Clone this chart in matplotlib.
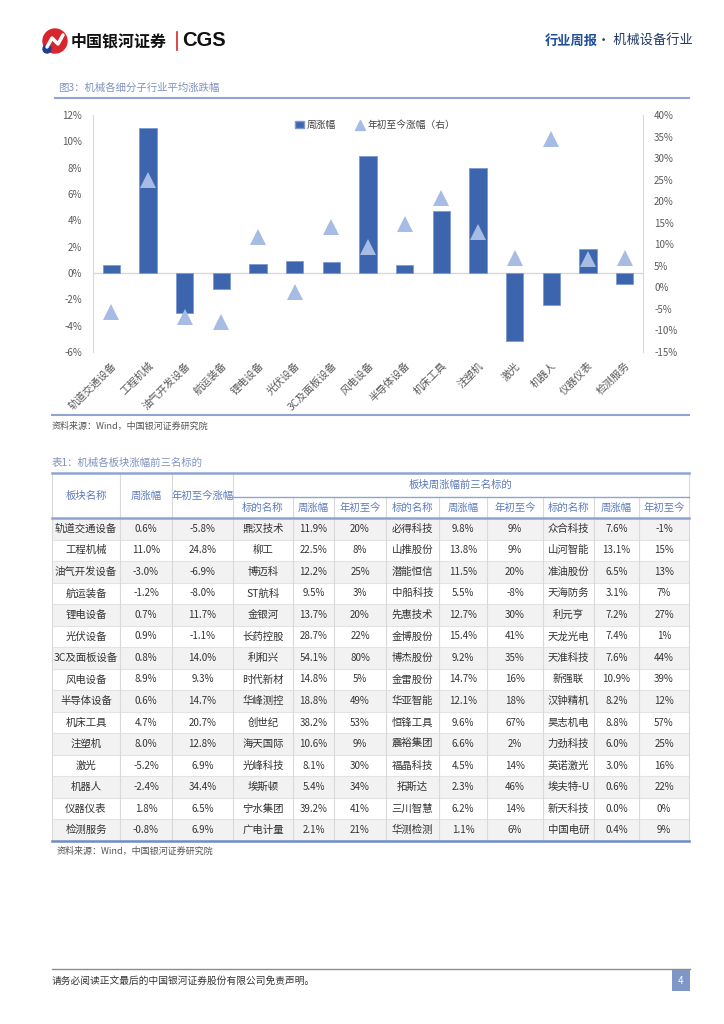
import numpy as np
import matplotlib
matplotlib.use('Agg')
import matplotlib.pyplot as plt
from matplotlib.patches import Rectangle, Circle, Patch
from matplotlib.lines import Line2D

plt.rcParams['font.family'] = ['Noto Sans CJK SC', 'DejaVu Sans']

# ---- data ----
sectors = ['轨道交通设备', '工程机械', '油气开发设备', '航运装备', '锂电设备', '光伏设备',
           '3C及面板设备', '风电设备', '半导体设备', '机床工具', '注塑机', '激光',
           '机器人', '仪器仪表', '检测服务']
week_chg = [0.6, 11.0, -3.0, -1.2, 0.7, 0.9, 0.8, 8.9, 0.6, 4.7, 8.0, -5.2, -2.4, 1.8, -0.8]
ytd_chg = [-5.8, 24.8, -6.9, -8.0, 11.7, -1.1, 14.0, 9.3, 14.7, 20.7, 12.8, 6.9, 34.4, 6.5, 6.9]

top1_name = ['鼎汉技术', '柳工', '博迈科', 'ST航科', '金银河', '长药控股', '利和兴', '时代新材',
             '华峰测控', '创世纪', '海天国际', '光峰科技', '埃斯顿', '宁水集团', '广电计量']
top1_week = [11.9, 22.5, 12.2, 9.5, 13.7, 28.7, 54.1, 14.8, 18.8, 38.2, 10.6, 8.1, 5.4, 39.2, 2.1]
top1_ytd = [20, 8, 25, 3, 20, 22, 80, 5, 49, 53, 9, 30, 34, 41, 21]

top2_name = ['必得科技', '山推股份', '潜能恒信', '中船科技', '先惠技术', '金博股份', '博杰股份', '金雷股份',
             '华亚智能', '恒锋工具', '震裕集团', '福晶科技', '拓斯达', '三川智慧', '华测检测']
top2_week = [9.8, 13.8, 11.5, 5.5, 12.7, 15.4, 9.2, 14.7, 12.1, 9.6, 6.6, 4.5, 2.3, 6.2, 1.1]
top2_ytd = [9, 9, 20, -8, 30, 41, 35, 16, 18, 67, 2, 14, 46, 14, 6]

top3_name = ['众合科技', '山河智能', '准油股份', '天海防务', '利元亨', '天龙光电', '天准科技', '新强联',
             '汉钟精机', '昊志机电', '力劲科技', '英诺激光', '埃夫特-U', '新天科技', '中国电研']
top3_week = [7.6, 13.1, 6.5, 3.1, 7.2, 7.4, 7.6, 10.9, 8.2, 8.8, 6.0, 3.0, 0.6, 0.0, 0.4]
top3_ytd = [-1, 15, 13, 7, 27, 1, 44, 39, 12, 57, 25, 16, 22, 0, 9]

W, H = 724, 1024
BLUE_LINE = '#8ea5d2'
TXT = '#333333'

fig = plt.figure(figsize=(W / 100, H / 100), dpi=100)
ov = fig.add_axes([0, 0, 1, 1])
ov.set_xlim(0, W)
ov.set_ylim(H, 0)
ov.axis('off')

# ---- header ----
ov.add_patch(Circle((55, 41), 12, color='#d7262e'))
ov.plot([47, 52, 58, 63], [47, 38, 44, 35], color='white', lw=2.5, solid_capstyle='round')
ov.add_patch(Circle((47, 49), 4, color='#1c3f8f'))
ov.text(71, 41, '中国银河证券', fontsize=11.5, fontweight='bold', va='center', ha='left', color='#111111')
ov.plot([177, 177], [32, 50], color='#d7262e', lw=1.2)
ov.text(182, 41, 'CGS', fontsize=14.5, fontweight='bold', va='center', ha='left', color='#111111',
        family='Liberation Sans')
ov.text(545, 41, '行业周报', fontsize=9.5, fontweight='bold', va='center', ha='left', color='#1f4e9c')
ov.text(597, 41, '· 机械设备行业', fontsize=9.5, va='center', ha='left', color='#1f3864')

# ---- figure title ----
ov.text(58, 88, '图3：机械各细分子行业平均涨跌幅', fontsize=7.5, va='center', ha='left', color='#7f93bd')
ov.plot([55, 689], [98, 98], color=BLUE_LINE, lw=1.5)

# ---- chart ----
ax = fig.add_axes([93 / W, 1 - 352 / H, 550 / W, 237 / H])
ax.patch.set_alpha(0)
x = np.arange(len(sectors))
ax.bar(x, week_chg, width=0.47, color='#3c65ae', edgecolor='#7c9ad4', lw=0.6, zorder=3)
ax.axhline(0, color='#d9d9d9', lw=1, zorder=1)
ax.set_xlim(-0.5, len(sectors) - 0.5)
ax.set_ylim(-6, 12)
ax.set_yticks(np.arange(-6, 13, 2))
ax.set_yticklabels([f'{v}%' for v in range(-6, 13, 2)])
ax.set_xticks(x)
ax.set_xticklabels(sectors, rotation=45, ha='right', rotation_mode='anchor')
ax.tick_params(axis='both', length=0, labelsize=7, labelcolor='#595959')
ax.tick_params(axis='x', pad=6, labelsize=7.5)
ax.tick_params(axis='y', pad=8)
for s in ['top', 'bottom', 'right']:
    ax.spines[s].set_visible(False)
ax.spines['left'].set_color('#d9d9d9')

ax2 = ax.twinx()
ax2.plot(x, ytd_chg, linestyle='none', marker='^', markersize=11, color='#a7bce5',
         markeredgewidth=0, zorder=4)
ax2.set_ylim(-15, 40)
ax2.set_yticks(np.arange(-15, 41, 5))
ax2.set_yticklabels([f'{v}%' for v in range(-15, 41, 5)])
ax2.tick_params(axis='y', length=0, labelsize=7, labelcolor='#595959', pad=8)
for s in ['top', 'bottom', 'left']:
    ax2.spines[s].set_visible(False)
ax2.spines['right'].set_color('#d9d9d9')

handles = [Patch(facecolor='#3c65ae', edgecolor='#7c9ad4'),
           Line2D([], [], linestyle='none', marker='^', markersize=7, color='#a7bce5')]
ax2.legend(handles, ['周涨幅', '年初至今涨幅（右）'], ncol=2, frameon=False, loc='center',
           bbox_to_anchor=(375 / W, 1 - 125 / H), bbox_transform=fig.transFigure,
           fontsize=7, handlelength=0.9, handletextpad=0.3, columnspacing=2.0,
           labelcolor='#404040')

ov.plot([52, 689], [415, 415], color=BLUE_LINE, lw=1.5)
ov.text(52, 426, '资料来源：Wind，中国银河证券研究院', fontsize=6.5, va='center', ha='left', color='#555555')

# ---- table ----
ov.text(52, 463, '表1：机械各板块涨幅前三名标的', fontsize=7.5, va='center', ha='left', color='#7f93bd')
cols = [52, 120, 172, 233, 293, 334, 386, 439, 487, 543, 594, 639, 689]
t_top, t_mid, t_hdr = 473, 497, 518
row_h = 21.53
n = len(sectors)
HDR = '#5b7bbd'
GRID = '#d9d9d9'

for i in range(n):
    y0 = t_hdr + i * row_h
    if i % 2 == 0:
        ov.add_patch(Rectangle((cols[0], y0), cols[-1] - cols[0], row_h, facecolor='#f2f2f2',
                               edgecolor='none', zorder=1))
    ov.plot([cols[0], cols[-1]], [y0 + row_h, y0 + row_h], color='#e3e3e3', lw=0.8, zorder=2)

for c in cols:
    if c in (cols[0], cols[-1]) or c in (120, 172, 233):
        ov.plot([c, c], [t_top, t_hdr + n * row_h], color=GRID, lw=0.8, zorder=2)
    else:
        ov.plot([c, c], [t_mid, t_hdr + n * row_h], color=GRID, lw=0.8, zorder=2)

ov.plot([cols[0], cols[-1]], [t_top, t_top], color=BLUE_LINE, lw=1.8, zorder=3)
ov.plot([233, cols[-1]], [t_mid, t_mid], color=BLUE_LINE, lw=1.0, zorder=3)
ov.plot([cols[0], cols[-1]], [t_hdr, t_hdr], color=BLUE_LINE, lw=1.8, zorder=3)
ov.plot([cols[0], cols[-1]], [t_hdr + n * row_h, t_hdr + n * row_h], color='#6f8cc6', lw=1.8, zorder=3)

def cx(j):
    return (cols[j] + cols[j + 1]) / 2

hmid = (t_top + t_hdr) / 2
ov.text(cx(0), hmid, '板块名称', fontsize=7.5, ha='center', va='center', color=HDR, zorder=4)
ov.text(cx(1), hmid, '周涨幅', fontsize=7.5, ha='center', va='center', color=HDR, zorder=4)
ov.text(cx(2), hmid, '年初至今涨幅', fontsize=7.5, ha='center', va='center', color=HDR, zorder=4)
ov.text((233 + cols[-1]) / 2, (t_top + t_mid) / 2, '板块周涨幅前三名标的', fontsize=7.5,
        ha='center', va='center', color=HDR, zorder=4)
for k in range(3):
    for j, lab in enumerate(['标的名称', '周涨幅', '年初至今']):
        ov.text(cx(3 + 3 * k + j), (t_mid + t_hdr) / 2, lab, fontsize=7.5, ha='center',
                va='center', color=HDR, zorder=4)

for i in range(n):
    yc = t_hdr + (i + 0.5) * row_h
    vals = [sectors[i], f'{week_chg[i]:.1f}%', f'{ytd_chg[i]:.1f}%',
            top1_name[i], f'{top1_week[i]:.1f}%', f'{top1_ytd[i]}%',
            top2_name[i], f'{top2_week[i]:.1f}%', f'{top2_ytd[i]}%',
            top3_name[i], f'{top3_week[i]:.1f}%', f'{top3_ytd[i]}%']
    for j, v in enumerate(vals):
        fs = 7.5 if j in (0, 3, 6, 9) else 7
        ov.text(cx(j), yc, v, fontsize=fs, ha='center', va='center', color=TXT, zorder=4)

ov.text(57, 851, '资料来源：Wind，中国银河证券研究院', fontsize=6.5, va='center', ha='left', color='#555555')

# ---- footer ----
ov.plot([52, 690], [969, 969], color='#8c8c8c', lw=1)
ov.text(52, 981, '请务必阅读正文最后的中国银河证券股份有限公司免责声明。', fontsize=7, va='center',
        ha='left', color='#333333')
ov.add_patch(Rectangle((672, 970), 18, 21, facecolor='#7f96c6', edgecolor='none'))
ov.text(681, 980.5, '4', fontsize=7, ha='center', va='center', color='white')

fig.savefig('out.png', dpi=100)
